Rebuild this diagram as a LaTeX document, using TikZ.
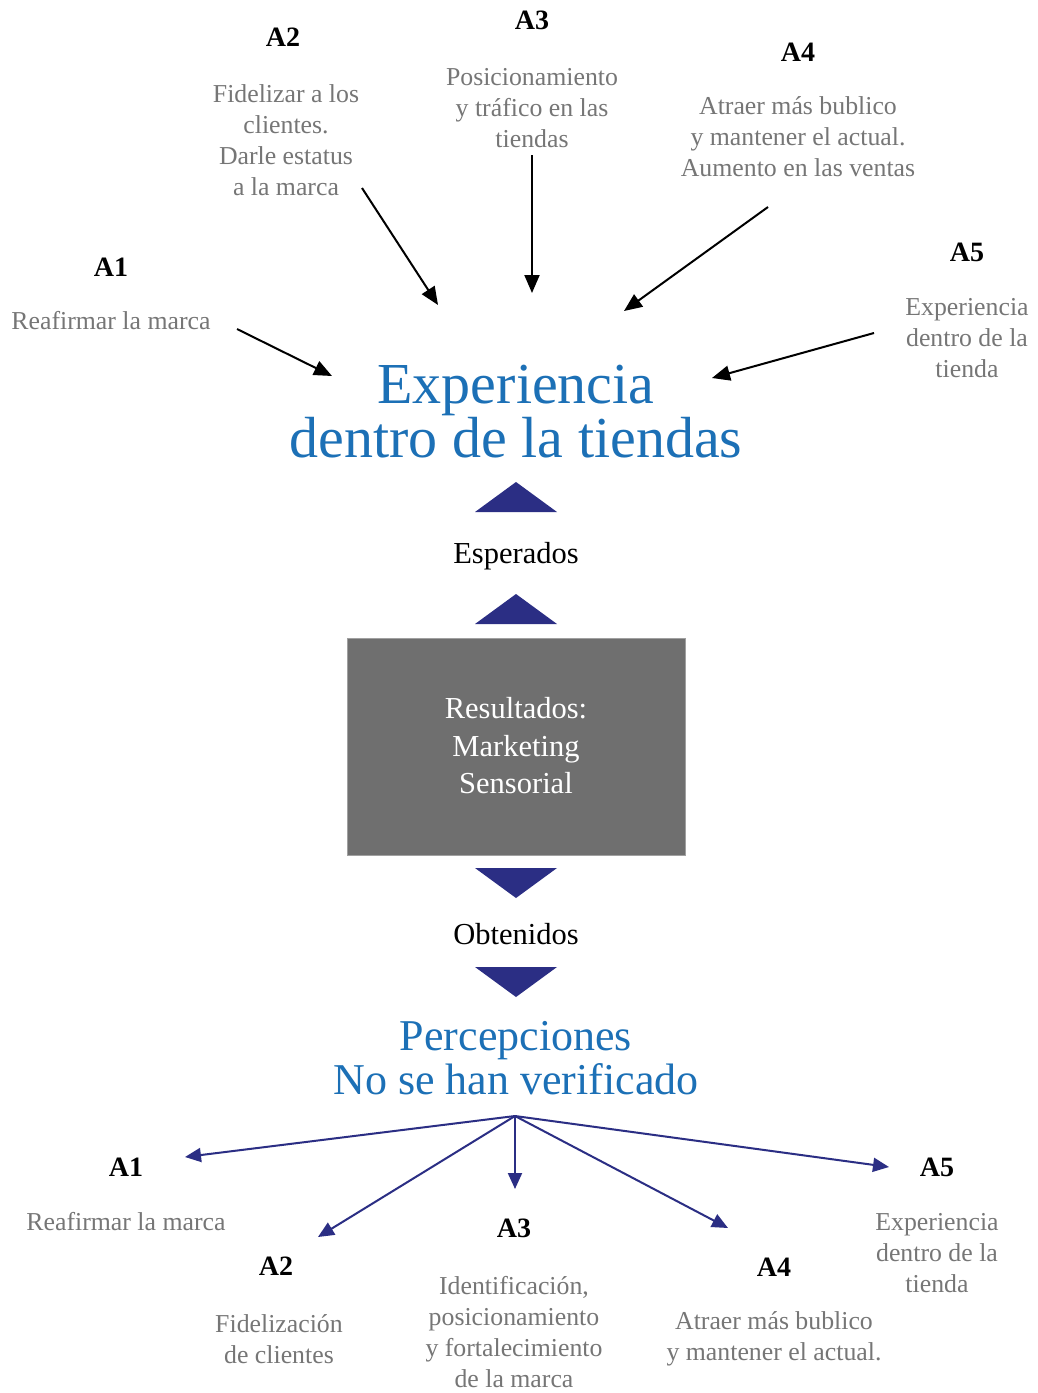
\documentclass[tikz,border=0pt]{standalone}
\usepackage{fontspec}
\setmainfont{Liberation Serif}
\usetikzlibrary{arrows.meta}
\definecolor{titleblue}{RGB}{28,112,182}
\definecolor{txtgray}{RGB}{118,118,118}
\definecolor{navy}{RGB}{43,46,132}
\definecolor{boxgray}{RGB}{111,111,111}
\definecolor{boxedge}{RGB}{160,160,160}
\begin{document}
\begin{tikzpicture}[x=1pt,y=-1pt,
  lbl/.style={font=\fontsize{28}{31}\selectfont\bfseries, text=black, inner sep=0pt},
  desc/.style={font=\fontsize{25.8}{31}\selectfont, text=txtgray, align=center, inner sep=0pt},
  title/.style={font=\fontsize{58}{54}\selectfont, text=titleblue, align=center, inner sep=0pt},
  subtitle/.style={font=\fontsize{44}{44}\selectfont, text=titleblue, align=center, inner sep=0pt},
  mid/.style={font=\fontsize{30.5}{37.5}\selectfont, text=black, align=center, inner sep=0pt},
  inarrow/.style={draw=black, line width=2pt, -{Triangle[length=18pt,width=15pt]}},
  outarrow/.style={draw=navy, line width=2pt, -{Triangle[length=16pt,width=14pt]}},
  tri/.style={fill=navy, draw=none}
]
\useasboundingbox (0,0) rectangle (1037,1393);
\fill[white] (0,0) rectangle (1037,1393);

% ---------- top labels ----------
\node[lbl] (ta1) at (111,267) {A1};
\node[desc] (td1) at (111,321) {Reafirmar la marca};
\node[lbl] (ta2) at (283,37) {A2};
\node[desc] (td2) at (286,140) {Fidelizar a los\\clientes.\\Darle estatus\\a la marca};
\node[lbl] (ta3) at (532,20) {A3};
\node[desc] (td3) at (532,108) {Posicionamiento\\y tráfico en las\\tiendas};
\node[lbl] (ta4) at (798,52) {A4};
\node[desc] (td4) at (798,137) {Atraer más bublico\\y mantener el actual.\\Aumento en las ventas};
\node[lbl] (ta5) at (967,252) {A5};
\node[desc] (td5) at (967,338) {Experiencia\\dentro de la\\tienda};

% ---------- title ----------
\node[title] (title) at (516,412) {Experiencia\\dentro de la tiendas};

% ---------- incoming arrows ----------
\coordinate (s1) at (237,329); \coordinate (e1) at (332,376);
\coordinate (s2) at (362,188); \coordinate (e2) at (438,305);
\coordinate (s3) at (532,155); \coordinate (e3) at (532,293);
\coordinate (s4) at (768,207); \coordinate (e4) at (624,311);
\coordinate (s5) at (874,333); \coordinate (e5) at (712,378);
\draw[inarrow] (s1) -- (e1);
\draw[inarrow] (s2) -- (e2);
\draw[inarrow] (s3) -- (e3);
\draw[inarrow] (s4) -- (e4);
\draw[inarrow] (s5) -- (e5);

% ---------- middle column ----------
\fill[tri] (475,512) -- (516,482) -- (557,512) -- cycle;
\node[mid] (esp) at (516,556) {Esperados};
\fill[tri] (475,624) -- (516,594) -- (557,624) -- cycle;
\node[draw=boxedge, line width=1pt, fill=boxgray, minimum width=338pt, minimum height=217pt, inner sep=0pt] (box) at (516,746.5) {};
\node[mid, text=white] (boxt) at (516,746) {Resultados:\\Marketing\\Sensorial};
\fill[tri] (475,868) -- (516,898) -- (557,868) -- cycle;
\node[mid] (obt) at (516,934) {Obtenidos};
\fill[tri] (475,967) -- (516,997) -- (557,967) -- cycle;
\node[subtitle] (perc) at (516,1058) {Percepciones\\No se han verificado};

% ---------- bottom labels ----------
\node[lbl] (ba1) at (126,1167) {A1};
\node[desc] (bd1) at (126,1222) {Reafirmar la marca};
\node[lbl] (ba2) at (276,1266) {A2};
\node[desc] (bd2) at (279,1339) {Fidelización\\de clientes};
\node[lbl] (ba3) at (514,1228) {A3};
\node[desc] (bd3) at (514,1332) {Identificación,\\posicionamiento\\y fortalecimiento\\de la marca};
\node[lbl] (ba4) at (774,1267) {A4};
\node[desc] (bd4) at (774,1339) {Atraer más bublico\\y mantener el actual.};
\node[lbl] (ba5) at (937,1167) {A5};
\node[desc] (bd5) at (937,1253) {Experiencia\\dentro de la\\tienda};

% ---------- outgoing arrows ----------
\coordinate (hub) at (515,1116);
\coordinate (o1) at (185,1157);
\coordinate (o2) at (318,1237);
\coordinate (o3) at (515,1189);
\coordinate (o4) at (728,1228);
\coordinate (o5) at (889,1167);
\draw[outarrow] (hub) -- (o1);
\draw[outarrow] (hub) -- (o2);
\draw[outarrow] (hub) -- (o3);
\draw[outarrow] (hub) -- (o4);
\draw[outarrow] (hub) -- (o5);
\end{tikzpicture}
\end{document}
